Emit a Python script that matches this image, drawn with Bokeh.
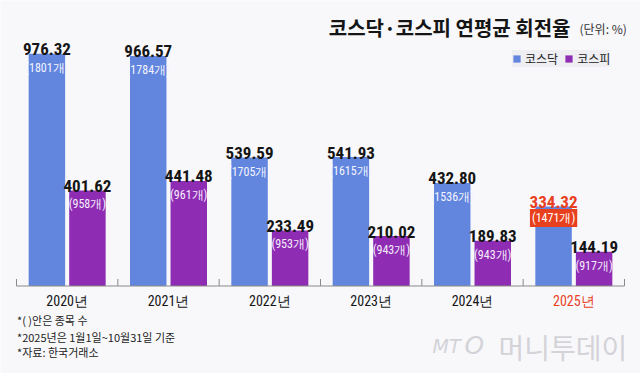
from bokeh.plotting import figure
from bokeh.models import ColumnDataSource, FactorRange, Range1d, Label, Legend, LegendItem, CDSView, IndexFilter
from bokeh.transform import dodge
from bokeh.core.properties import value
from bokeh.embed import file_html
from bokeh.resources import INLINE

# ---- data ----
years = ["2020년", "2021년", "2022년", "2023년", "2024년", "2025년"]
kosdaq = [976.32, 966.57, 539.59, 541.93, 432.80, 334.32]
kospi = [401.62, 441.48, 233.49, 210.02, 189.83, 144.19]
kosdaq_count = [1801, 1784, 1705, 1615, 1536, 1471]
kospi_count = [958, 961, 953, 943, 943, 917]
series_names = ["코스닥", "코스피"]
title_text = "코스닥·코스피 연평균 회전율"
unit_text = "(단위: %)"
notes = ["*( )안은 종목 수", "*2025년은 1월1일~10월31일 기준", "*자료: 한국거래소"]

# ---- style ----
BG = "#f8f8fb"
BLUE = "#6285de"
PURPLE = "#8e2db4"
RED = "#e8401e"
INK = "#151515"
NUM_FONT = "Noto Sans Condensed, Roboto Condensed, DejaVu Sans Condensed, Roboto"
KR_FONT = "Noto Sans CJK KR"

W, H = 640, 373
PX = 0.238          # pixels per data unit
BASE = 285.5        # baseline distance from top, px
ymax = BASE / PX
ymin = -(H - BASE) / PX
n = len(years)
last = n - 1

p = figure(width=W, height=H,
           x_range=FactorRange(factors=years, range_padding=32 / 608),
           y_range=Range1d(ymin, ymax),
           output_backend="svg", toolbar_location=None,
           x_axis_location=None, y_axis_location=None,
           min_border=0, background_fill_color=BG, border_fill_color=BG,
           outline_line_color=None)
p.grid.visible = False

hl = [RED if i == last else INK for i in range(n)]
src = ColumnDataSource(dict(
    year=years, kosdaq=kosdaq, kospi=kospi,
    kosdaq_lbl=[f"{v:.2f}" for v in kosdaq],
    kospi_lbl=[f"{v:.2f}" for v in kospi],
    kosdaq_cnt=[f"({c}개)" for c in kosdaq_count],
    kospi_cnt=[f"({c}개)" for c in kospi_count],
    kosdaq_col=hl, year_col=hl,
))

r1 = p.vbar(x=dodge("year", -0.2, range=p.x_range), top="kosdaq", width=0.36,
            source=src, color=BLUE, line_color=None)
r2 = p.vbar(x=dodge("year", 0.2, range=p.x_range), top="kospi", width=0.36,
            source=src, color=PURPLE, line_color=None)

# baseline and group boundary ticks
bounds = list(range(n + 1))
p.segment(x0=[0], y0=[0], x1=[n], y1=[0], line_color="#8a8a8a", line_width=1)
p.segment(x0=bounds, y0=[0] * (n + 1), x1=bounds, y1=[7 / PX] * (n + 1),
          line_color="#8a8a8a", line_width=1)

# value labels
p.text(x=dodge("year", -0.2, range=p.x_range), y="kosdaq", text="kosdaq_lbl", source=src,
       text_align="center", text_baseline="alphabetic", y_offset=-4.5,
       text_font=value(NUM_FONT), text_font_style="bold", text_font_size="17px",
       text_color="kosdaq_col")
p.text(x=dodge("year", 0.2, range=p.x_range), y="kospi", text="kospi_lbl", source=src,
       text_align="center", text_baseline="alphabetic", y_offset=-4.5,
       text_font=value(NUM_FONT), text_font_style="bold", text_font_size="17px",
       text_color=INK)

# count labels
view_norm = CDSView(filter=IndexFilter(list(range(last))))
view_last = CDSView(filter=IndexFilter([last]))
p.text(x=dodge("year", -0.2, range=p.x_range), y="kosdaq", text="kosdaq_cnt", source=src,
       view=view_norm, text_align="center", text_baseline="middle", y_offset=14,
       text_font=value(NUM_FONT), text_font_size="12px", text_color="#f4f6ff")
p.text(x=dodge("year", -0.2, range=p.x_range), y="kosdaq", text="kosdaq_cnt", source=src,
       view=view_last, text_align="center", text_baseline="middle", y_offset=11.5,
       text_font=value(NUM_FONT), text_font_size="12px", text_color="white",
       background_fill_color=RED, padding=2)
p.text(x=dodge("year", 0.2, range=p.x_range), y="kospi", text="kospi_cnt", source=src,
       text_align="center", text_baseline="middle", y_offset=14,
       text_font=value(NUM_FONT), text_font_size="12px", text_color="#f7eefc")

# year labels
p.text(x="year", y=0, text="year", source=src, text_align="center", text_baseline="middle",
       y_offset=14.5, text_font=value(NUM_FONT), text_font_size="14px", text_color="year_col")

# title & unit
p.add_layout(Label(x=570, y=H - 26.7, x_units="screen", y_units="screen", text=title_text,
                   text_align="right", text_baseline="middle", text_font=KR_FONT,
                   text_font_style="bold", text_font_size="20px", text_color=INK))
p.add_layout(Label(x=579, y=H - 28, x_units="screen", y_units="screen", text=unit_text,
                   text_align="left", text_baseline="middle", text_font=KR_FONT,
                   text_font_size="12px", text_color="#333333"))

# footnotes
for i, t in enumerate(notes):
    p.add_layout(Label(x=16.5, y=[53.7, 37, 21.3][i], x_units="screen", y_units="screen",
                       text=t, text_align="left", text_baseline="middle", text_font=KR_FONT,
                       text_font_size="11px", text_color="#222222"))

# watermark
WM = "#d3d3d8"
p.add_layout(Label(x=432, y=28, x_units="screen", y_units="screen", text="MT",
                   text_baseline="middle", text_font="DejaVu Sans", text_font_style="italic",
                   text_font_size="19px", text_color=WM))
p.add_layout(Label(x=464, y=28, x_units="screen", y_units="screen", text="O",
                   text_baseline="middle", text_font="DejaVu Sans", text_font_style="italic",
                   text_font_size="25px", text_color=WM))
p.add_layout(Label(x=498, y=27, x_units="screen", y_units="screen", text="머니투데이",
                   text_baseline="middle", text_font=KR_FONT, text_font_size="28px",
                   text_color=WM))

# legend
legend = Legend(items=[LegendItem(label=series_names[0], renderers=[r1]),
                       LegendItem(label=series_names[1], renderers=[r2])],
                orientation="horizontal", location=(512, H - 67),
                background_fill_color="#eeeef3", background_fill_alpha=1,
                border_line_color=None, padding=4, spacing=6, label_standoff=4,
                glyph_width=9, glyph_height=9, label_height=12, margin=0,
                label_text_font=KR_FONT, label_text_font_size="12px",
                label_text_color="#222222")
p.add_layout(legend)

open("out.html", "w").write(file_html(p, INLINE))
